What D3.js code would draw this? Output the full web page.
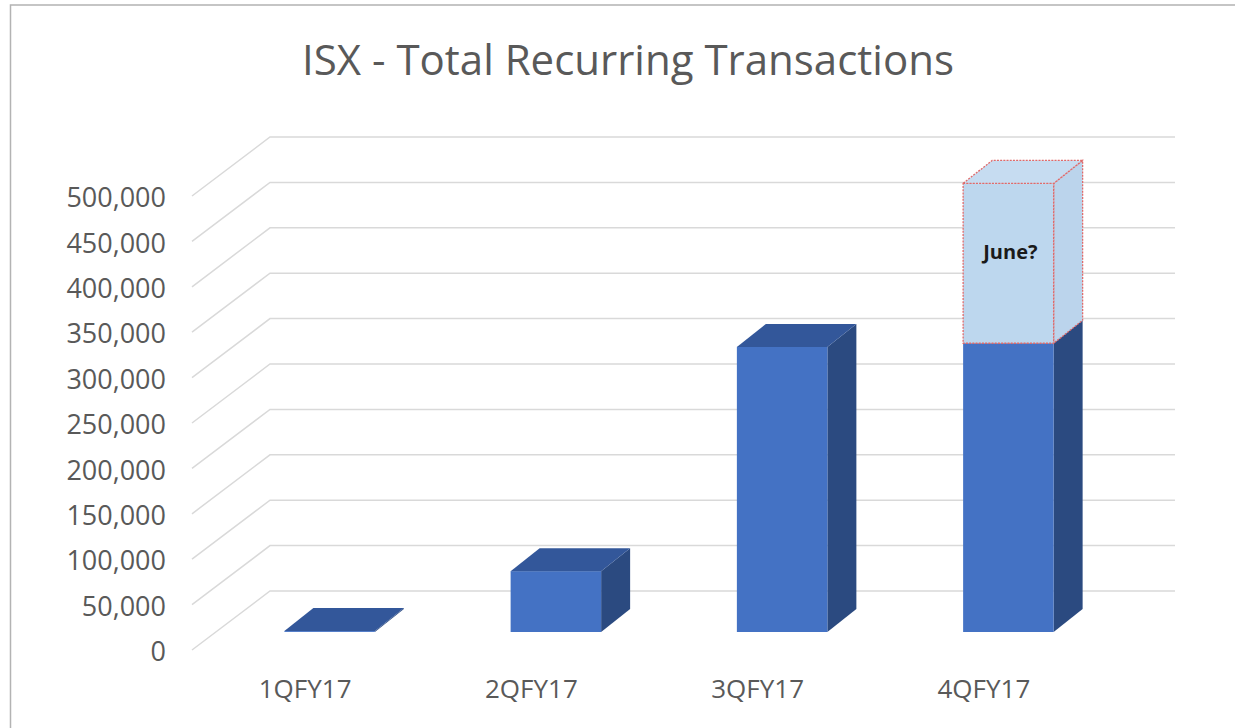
<!DOCTYPE html>
<html>
<head>
<meta charset="utf-8">
<script src="https://cdn.jsdelivr.net/npm/d3@7"></script>
<style>
  body { margin: 0; background: #fff; }
  text { font-family: "Open Sans", "DejaVu Sans", sans-serif; }
</style>
</head>
<body>
<div id="chart-area"></div>
<script>
// data
var quarters = ["1QFY17", "2QFY17", "3QFY17", "4QFY17"]
var actual = [1000, 67000, 314000, 318000]
var projected = [0, 0, 0, 176000]
var projectedNote = ["", "", "", "June?"]
var yTicks = [0, 50000, 100000, 150000, 200000, 250000, 300000, 350000, 400000, 450000, 500000]

var W = 1235, H = 728

// front floor plane
var front = { left: 192, right: 1097, bottom: 650, top: 196 }
// depth of the whole floor (oblique projection)
var depth = { dx: 78, dy: -59 }
// bar sits in the middle of the depth
var barShift = { dx: 24.5, dy: -18 }
var barDepth = { dx: 29, dy: -23 }

var svg = d3.select("#chart-area").append("svg")
    .attr("width", W)
    .attr("height", H)

// chart border
svg.append("rect")
  .attr("x", 10.5).attr("y", 5)
  .attr("width", W + 20).attr("height", H + 20)
  .attr("fill", "none")
  .attr("stroke", "#b3b3b3")
  .attr("stroke-width", 1.5)

svg.append("text")
  .attr("x", 628)
  .attr("y", 75)
  .attr("text-anchor", "middle")
  .attr("font-size", "42px")
  .attr("fill", "#595959")
  .text("ISX - Total Recurring Transactions")

var x = d3.scaleBand()
  .domain(quarters)
  .range([front.left, front.right])
  .paddingInner(0.6)
  .paddingOuter(0.3)

var y = d3.scaleLinear()
  .domain([0, 500000])
  .range([front.bottom, front.top])

// gridlines: diagonal on the side wall, then flat on the back wall
var grid = svg.append("g")
grid.selectAll("path")
  .data(yTicks)
  .enter().append("path")
    .attr("d", function(d) {
      var y0 = y(d)
      return "M" + front.left + "," + y0 +
        "L" + (front.left + depth.dx) + "," + (y0 + depth.dy) +
        "L" + (front.right + depth.dx) + "," + (y0 + depth.dy)
    })
    .attr("fill", "none")
    .attr("stroke", "#d9d9d9")
    .attr("stroke-width", 1.5)

// y labels
svg.append("g").selectAll("text")
  .data(yTicks)
  .enter().append("text")
    .attr("x", 166)
    .attr("y", function(d) { return y(d) + 1.5 })
    .attr("dy", "0.36em")
    .attr("text-anchor", "end")
    .attr("font-size", "27px")
    .attr("fill", "#595959")
    .text(d3.format(","))

// x labels
svg.append("g").selectAll("text")
  .data(quarters)
  .enter().append("text")
    .attr("x", function(d) { return x(d) + x.bandwidth() / 2 })
    .attr("y", 698)
    .attr("text-anchor", "middle")
    .attr("font-size", "26px")
    .attr("fill", "#595959")
    .text(function(d) { return d })

function drawBox(g, x0, w, yBot, yTop, dd, col) {
  g.append("polygon")
    .attr("points", [[x0 + w, yTop], [x0 + w + dd.dx, yTop + dd.dy],
                     [x0 + w + dd.dx, yBot + dd.dy], [x0 + w, yBot]].join(" "))
    .attr("fill", col.side)
  g.append("rect")
    .attr("x", x0).attr("y", yTop)
    .attr("width", w).attr("height", Math.max(0, yBot - yTop))
    .attr("fill", col.front)
  g.append("polygon")
    .attr("points", [[x0, yTop], [x0 + w, yTop],
                     [x0 + w + dd.dx, yTop + dd.dy], [x0 + dd.dx, yTop + dd.dy]].join(" "))
    .attr("fill", col.top)
}

var solid = { front: "#4472c4", top: "#33579a", side: "#2b4a80" }
var light = { front: "#bdd7ee", top: "#c6dcf1", side: "#bbd4ec" }

var bars = svg.append("g")
quarters.forEach(function(q, i) {
  var x0 = x(q) + barShift.dx
  var w = x.bandwidth()
  var base = y(0) + barShift.dy
  var topA = y(actual[i]) + barShift.dy
  drawBox(bars, x0, w, base, topA, barDepth, solid)

  if (projected[i] > 0) {
    var topP = y(actual[i] + projected[i]) + barShift.dy
    var pg = bars.append("g")
    drawBox(pg, x0, w, topA, topP, barDepth, light)
    pg.selectAll("rect, polygon")
      .attr("stroke", "#e06a6a")
      .attr("stroke-width", 1.3)
      .attr("stroke-dasharray", "2,1.2")
    bars.append("text")
      .attr("x", x0 + w / 2 + 2)
      .attr("y", topP + 76)
      .attr("text-anchor", "middle")
      .attr("font-size", "20px")
      .attr("font-weight", "bold")
      .attr("fill", "#1a1a1a")
      .text(projectedNote[i])
  }
})
</script>
</body>
</html>
